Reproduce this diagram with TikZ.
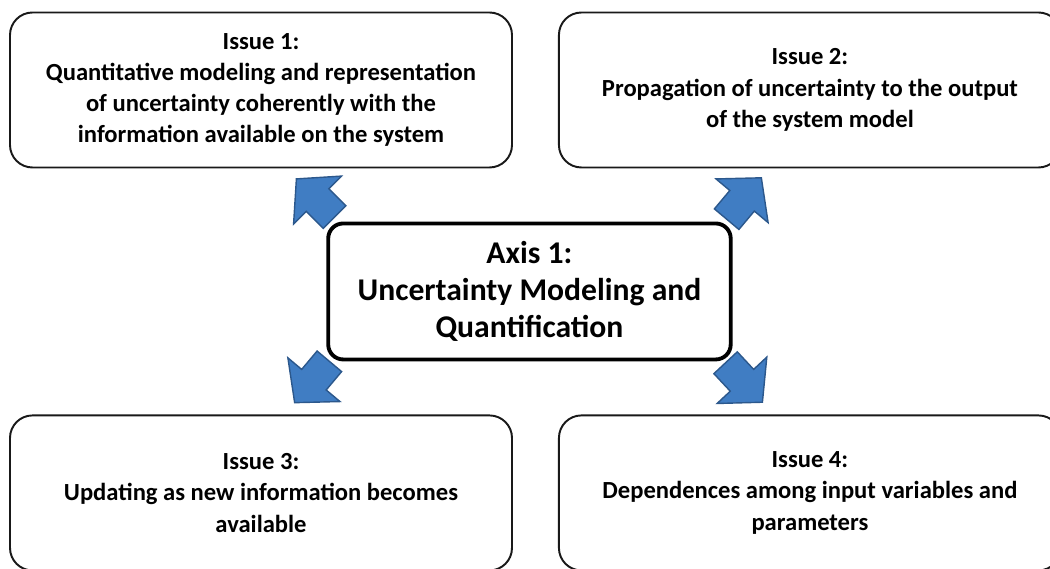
\documentclass[tikz,border=0pt]{standalone}
\usepackage{fontspec}
\setmainfont{Carlito}
\usepackage{xcolor}
\usetikzlibrary{positioning, calc}

\definecolor{arrowblue}{RGB}{64,125,195}
\definecolor{arrowedge}{RGB}{44,88,140}

\begin{document}
\begin{tikzpicture}[
    issue/.style={draw=black!90, line width=1.1pt, rounded corners=0.45cm, minimum width=10.04cm, minimum height=3.1cm, align=center, fill=white, font=\bfseries\fontsize{14}{17.8}\selectfont},
    axis/.style={draw=black, line width=2.2pt, rounded corners=0.3cm, minimum width=8.05cm, minimum height=2.72cm, align=center, fill=white, font=\bfseries\fontsize{18}{21}\selectfont},
    blockarrow/.pic={
        \draw[draw=arrowedge, line width=0.8pt, fill=arrowblue] (-0.54,-0.32) -- (-0.06,-0.32) -- (-0.06,-0.68) -- (0.54,0) -- (-0.06,0.68) -- (-0.06,0.32) -- (-0.54,0.32) -- cycle;
    }
]
    \useasboundingbox (0,0) rectangle (21,11.38);
    \clip (0,0) rectangle (21,11.38);

    % Top row
    \node[issue] (iss1) at (5.22,9.58) {Issue 1:\\Quantitative modeling and representation\\of uncertainty coherently with the\\information available on the system};
    \node[issue, right=0.9cm of iss1] (iss2) {Issue 2:\\Propagation of uncertainty to the output\\of the system model};

    % Bottom row
    \node[issue, below=4.92cm of iss1] (iss3) {Issue 3:\\Updating as new information becomes\\available};
    \node[issue, right=0.9cm of iss3] (iss4) {Issue 4:\\Dependences among input variables and\\parameters};

    % Centre
    \node[axis, xshift=-0.12cm] (axis) at ($(iss1.south east)!0.5!(iss4.north west)$) {Axis 1:\\Uncertainty Modeling and\\Quantification};

    % Block arrows
    \pic[rotate=135] (arr1) at (6.31,7.42) {blockarrow};
    \pic[rotate=50] (arr2) at (14.88,7.41) {blockarrow};
    \pic[rotate=230] (arr3) at (6.24,3.74) {blockarrow};
    \pic[rotate=-47] (arr4) at (14.88,3.73) {blockarrow};
\end{tikzpicture}
\end{document}
